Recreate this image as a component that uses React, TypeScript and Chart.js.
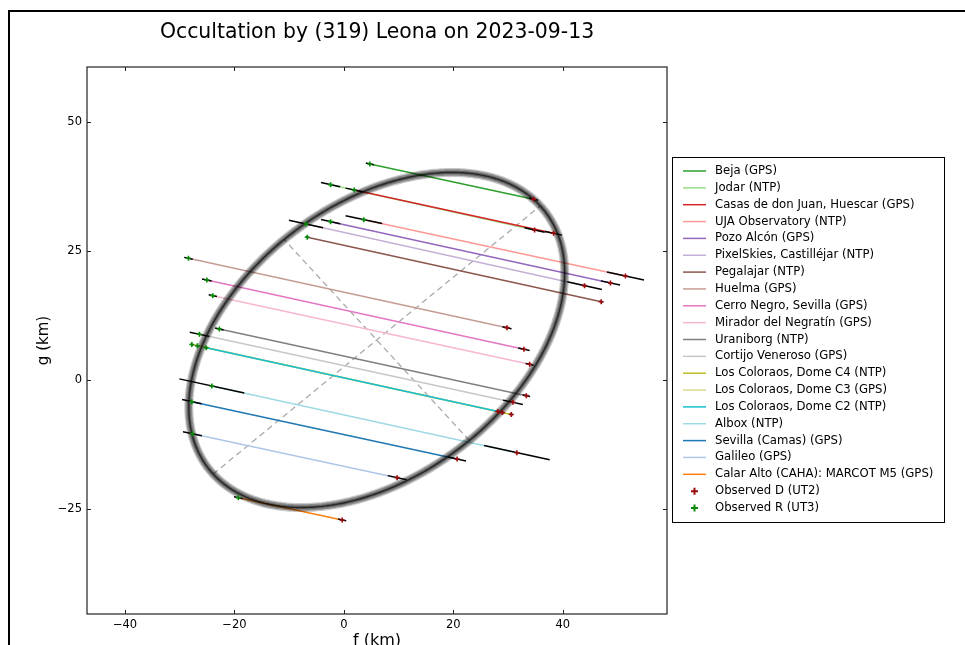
import { useEffect, useRef } from 'react';
import { Chart, registerables } from 'chart.js';

Chart.register(...registerables);

const TITLE = 'Occultation by (319) Leona on 2023-09-13';

// Stations in plotting order (legend order)
const STATIONS = [
  'Beja (GPS)',
  'Jodar (NTP)',
  'Casas de don Juan, Huescar (GPS)',
  'UJA Observatory (NTP)',
  'Pozo Alcón (GPS)',
  'PixelSkies, Castilléjar (NTP)',
  'Pegalajar (NTP)',
  'Huelma (GPS)',
  'Cerro Negro, Sevilla (GPS)',
  'Mirador del Negratín (GPS)',
  'Uraniborg (NTP)',
  'Cortijo Veneroso (GPS)',
  'Los Coloraos, Dome C4 (NTP)',
  'Los Coloraos, Dome C3 (GPS)',
  'Los Coloraos, Dome C2 (NTP)',
  'Albox (NTP)',
  'Sevilla (Camas) (GPS)',
  'Galileo (GPS)',
  'Calar Alto (CAHA): MARCOT M5 (GPS)',
];

const CHORD_COLORS = [
  '#2ca02c', '#98df8a', '#d62728', '#ff9896', '#9467bd', '#c5b0d5', '#8c564b',
  '#c49c94', '#e377c2', '#f7b6d2', '#7f7f7f', '#c7c7c7', '#bcbd22', '#dbdb8d',
  '#17becf', '#9edae5', '#1f77b4', '#aec7e8', '#ff7f0e',
];

// Reappearance (R) positions in the sky plane, km
const R_F = [4.74, -2.43, 1.88, 3.65, -2.43, -6.93, -6.7, -28.41, -25.05, -23.96, -22.76, -26.4, -27.79, -26.77, -25.18, -24.14, -27.79, -27.68, -19.29];
const R_G = [41.86, 37.85, 36.82, 31.07, 30.68, 30.23, 27.66, 23.58, 19.38, 16.34, 9.88, 8.86, 6.87, 6.63, 6.26, -1.16, -4.21, -10.41, -22.81];
// Disappearance (D) positions, km
const D_F = [34.67, 34.85, 38.32, 51.46, 48.72, 43.98, 47.03, 29.8, 32.9, 33.94, 33.34, 30.89, 30.6, 28.96, 28.16, 31.62, 20.68, 9.73, -0.31];
const D_G = [35.02, 29.07, 28.43, 20.16, 18.8, 18.28, 15.17, 10.14, 5.95, 3.04, -3.04, -4.32, -6.68, -6.3, -6.12, -14.09, -15.31, -18.93, -27.13];
// Timing uncertainties projected along the chord, km
const R_ERR = [0.75, 1.8, 1.6, 3.43, 1.8, 3.2, 0.3, 0.8, 0.9, 0.77, 0.8, 1.82, 0.3, 0.3, 0.3, 6.09, 1.82, 1.77, 0.82];
const D_ERR = [0.85, 1.9, 1.6, 3.47, 1.8, 3.25, 0.3, 0.86, 1.07, 0.76, 0.7, 1.86, 0.3, 0.3, 0.3, 6.15, 1.68, 1.77, 0.77];

// Fitted ellipse: centre (f, g), semi-axes (km) and position angle (deg)
const ELLIPSE_CENTER = [6.0, 7.75];
const ELLIPSE_AXES = [39.6, 25.8];
const ELLIPSE_ANGLE = 41;

const X_TICKS = [-40, -20, 0, 20, 40];
const Y_TICKS = [-25, 0, 25, 50];
const X_LIMITS = [-46.95, 59.05];
const Y_LIMITS = [-45.35, 60.65];

const D_COLOR = '#9b0a0a';
const R_COLOR = '#0a8a0a';
const FONT = '"DejaVu Sans", "Liberation Sans", sans-serif';

type Pt = { x: number; y: number };

function ellipsePoint(t: number): Pt {
  const th = (ELLIPSE_ANGLE * Math.PI) / 180;
  const u = ELLIPSE_AXES[0] * Math.cos(t);
  const v = ELLIPSE_AXES[1] * Math.sin(t);
  return {
    x: ELLIPSE_CENTER[0] + u * Math.cos(th) - v * Math.sin(th),
    y: ELLIPSE_CENTER[1] + u * Math.sin(th) + v * Math.cos(th),
  };
}

function ellipsePath(): Pt[] {
  const pts: Pt[] = [];
  const n = 240;
  for (let i = 0; i <= n; i++) pts.push(ellipsePoint((2 * Math.PI * i) / n));
  return pts;
}

function fmt(v: number): string {
  return v < 0 ? '\u2212' + Math.abs(v) : String(v);
}

function errorBar(f: number, g: number, ux: number, uy: number, e: number): Pt[] {
  return [
    { x: f - ux * e, y: g - uy * e },
    { x: f + ux * e, y: g + uy * e },
  ];
}

const decorations = {
  id: 'decorations',
  afterDraw(chart: any) {
    const { ctx, chartArea: a, scales } = chart;
    ctx.save();

    // figure frame
    ctx.strokeStyle = '#000';
    ctx.lineWidth = 2;
    ctx.beginPath();
    ctx.moveTo(9, 700);
    ctx.lineTo(9, 11);
    ctx.lineTo(970, 11);
    ctx.stroke();

    // title
    ctx.fillStyle = '#000';
    ctx.font = `20.4px ${FONT}`;
    ctx.textAlign = 'center';
    ctx.textBaseline = 'middle';
    ctx.fillText(TITLE, (a.left + a.right) / 2, 33);

    // axes box
    ctx.strokeStyle = '#222';
    ctx.lineWidth = 1.2;
    ctx.strokeRect(a.left, a.top, a.right - a.left, a.bottom - a.top);

    // inward ticks on all four sides
    ctx.lineWidth = 1;
    const tl = 4;
    ctx.beginPath();
    X_TICKS.forEach((v) => {
      const px = Math.round(scales.x.getPixelForValue(v)) + 0.5;
      ctx.moveTo(px, a.bottom);
      ctx.lineTo(px, a.bottom - tl);
      ctx.moveTo(px, a.top);
      ctx.lineTo(px, a.top + tl);
    });
    Y_TICKS.forEach((v) => {
      const py = Math.round(scales.y.getPixelForValue(v)) + 0.5;
      ctx.moveTo(a.left, py);
      ctx.lineTo(a.left + tl, py);
      ctx.moveTo(a.right, py);
      ctx.lineTo(a.right - tl, py);
    });
    ctx.stroke();

    // legend
    const lx = 672.5;
    const ly = 157.5;
    const lw = 272;
    const lh = 365;
    ctx.fillStyle = '#fff';
    ctx.fillRect(lx, ly, lw, lh);
    ctx.strokeStyle = '#000';
    ctx.lineWidth = 1;
    ctx.strokeRect(lx, ly, lw, lh);
    ctx.font = `11.7px ${FONT}`;
    ctx.textAlign = 'left';
    ctx.textBaseline = 'middle';
    const rowY = (i: number) => 171 + i * 16.85;
    STATIONS.forEach((name, i) => {
      const y = rowY(i);
      ctx.strokeStyle = CHORD_COLORS[i];
      ctx.lineWidth = 1.5;
      ctx.beginPath();
      ctx.moveTo(683, y);
      ctx.lineTo(706, y);
      ctx.stroke();
      ctx.fillStyle = '#000';
      ctx.fillText(name, 715, y);
    });
    const markers = [
      { label: 'Observed D (UT2)', color: D_COLOR },
      { label: 'Observed R (UT3)', color: R_COLOR },
    ];
    markers.forEach((m, k) => {
      const y = rowY(STATIONS.length + k);
      ctx.strokeStyle = m.color;
      ctx.lineWidth = 2;
      ctx.beginPath();
      ctx.moveTo(691, y);
      ctx.lineTo(698, y);
      ctx.moveTo(694.5, y - 3.5);
      ctx.lineTo(694.5, y + 3.5);
      ctx.stroke();
      ctx.fillStyle = '#000';
      ctx.fillText(m.label, 715, y);
    });

    ctx.restore();
  },
};

export default function App() {
  const ref = useRef<HTMLCanvasElement>(null);

  useEffect(() => {
    document.body.style.margin = '0';
    const canvas = ref.current;
    if (!canvas) return;

    const datasets: any[] = [];
    const n = STATIONS.length;

    // chords
    STATIONS.forEach((name, i) => {
      datasets.push({
        label: name,
        data: [
          { x: R_F[i], y: R_G[i] },
          { x: D_F[i], y: D_G[i] },
        ],
        showLine: true,
        borderColor: CHORD_COLORS[i],
        borderWidth: 1.5,
        pointRadius: 0,
        order: 20 + (n - i) / 100,
      });
    });

    // timing error bars (black) at each end of every chord
    STATIONS.forEach((_, i) => {
      const df = D_F[i] - R_F[i];
      const dg = D_G[i] - R_G[i];
      const len = Math.hypot(df, dg);
      const ux = df / len;
      const uy = dg / len;
      datasets.push({
        data: errorBar(R_F[i], R_G[i], ux, uy, R_ERR[i]),
        showLine: true,
        borderColor: '#000',
        borderWidth: 1.5,
        pointRadius: 0,
        order: 6,
      });
      datasets.push({
        data: errorBar(D_F[i], D_G[i], ux, uy, D_ERR[i]),
        showLine: true,
        borderColor: '#000',
        borderWidth: 1.5,
        pointRadius: 0,
        order: 6,
      });
    });

    // ellipse axes (dashed)
    const th = (ELLIPSE_ANGLE * Math.PI) / 180;
    const [cx, cy] = ELLIPSE_CENTER;
    const [ea, eb] = ELLIPSE_AXES;
    datasets.push({
      data: [
        { x: cx - ea * Math.cos(th), y: cy - ea * Math.sin(th) },
        { x: cx + ea * Math.cos(th), y: cy + ea * Math.sin(th) },
      ],
      showLine: true,
      borderColor: '#aaaaaa',
      borderWidth: 1.3,
      borderDash: [6, 4],
      pointRadius: 0,
      order: 30,
    });
    datasets.push({
      data: [
        { x: cx + eb * Math.sin(th), y: cy - eb * Math.cos(th) },
        { x: cx - eb * Math.sin(th), y: cy + eb * Math.cos(th) },
      ],
      showLine: true,
      borderColor: '#aaaaaa',
      borderWidth: 1.3,
      borderDash: [6, 4],
      pointRadius: 0,
      order: 30,
    });

    // fitted ellipse with its uncertainty band
    // (a tiny tension keeps Chart.js off its sorted-x fast path, which would
    // draw spikes where the closed curve turns back on itself)
    const ell = ellipsePath();
    const band = [
      { w: 9, c: 'rgba(0,0,0,0.22)' },
      { w: 6.5, c: 'rgba(0,0,0,0.3)' },
      { w: 3.5, c: 'rgba(0,0,0,0.3)' },
      { w: 1.4, c: 'rgba(0,0,0,0.6)' },
    ];
    band.forEach((b, k) => {
      datasets.push({
        data: ell,
        showLine: true,
        borderColor: b.c,
        borderWidth: b.w,
        borderJoinStyle: 'round',
        pointRadius: 0,
        tension: 0.001,
        order: 4 - k * 0.1,
      });
    });

    // observed instants
    datasets.push({
      data: STATIONS.map((_, i) => ({ x: D_F[i], y: D_G[i] })),
      showLine: false,
      pointStyle: 'cross',
      pointRadius: 2.5,
      borderWidth: 1.6,
      borderColor: D_COLOR,
      backgroundColor: D_COLOR,
      order: 1,
    });
    datasets.push({
      data: STATIONS.map((_, i) => ({ x: R_F[i], y: R_G[i] })),
      showLine: false,
      pointStyle: 'cross',
      pointRadius: 2.5,
      borderWidth: 1.6,
      borderColor: R_COLOR,
      backgroundColor: R_COLOR,
      order: 0.5,
    });

    const chart = new Chart(canvas, {
      type: 'scatter',
      data: { datasets },
      plugins: [decorations],
      options: {
        animation: false,
        responsive: false,
        devicePixelRatio: 1,
        layout: { padding: { left: 0, right: 298, top: 67, bottom: 0 } },
        elements: { line: { tension: 0 } },
        plugins: {
          legend: { display: false },
          tooltip: { enabled: false },
          title: { display: false },
        },
        scales: {
          x: {
            type: 'linear',
            min: X_LIMITS[0],
            max: X_LIMITS[1],
            grid: { display: false, drawTicks: false },
            border: { display: false },
            afterBuildTicks: (axis: any) => {
              axis.ticks = X_TICKS.map((value) => ({ value }));
            },
            afterFit: (axis: any) => {
              axis.height = 51;
            },
            ticks: {
              padding: 4,
              color: '#000',
              font: { family: FONT, size: 11.5 },
              maxRotation: 0,
              callback: (v: any) => fmt(Number(v)),
            },
            title: {
              display: true,
              text: 'f (km)',
              color: '#000',
              font: { family: FONT, size: 16 },
              padding: { top: 0, bottom: 15 },
            },
          },
          y: {
            type: 'linear',
            min: Y_LIMITS[0],
            max: Y_LIMITS[1],
            grid: { display: false, drawTicks: false },
            border: { display: false },
            afterBuildTicks: (axis: any) => {
              axis.ticks = Y_TICKS.map((value) => ({ value }));
            },
            afterFit: (axis: any) => {
              axis.width = 87;
            },
            ticks: {
              padding: 5,
              color: '#000',
              font: { family: FONT, size: 11.5 },
              callback: (v: any) => fmt(Number(v)),
            },
            title: {
              display: true,
              text: 'g (km)',
              color: '#000',
              font: { family: FONT, size: 15 },
              padding: { top: 35, bottom: 0 },
            },
          },
        },
      } as any,
    });

    return () => chart.destroy();
  }, []);

  return (
    <div style={{ width: 965, height: 645, overflow: 'hidden', position: 'relative' }}>
      <canvas ref={ref} width={965} height={665} style={{ display: 'block' }} />
    </div>
  );
}
